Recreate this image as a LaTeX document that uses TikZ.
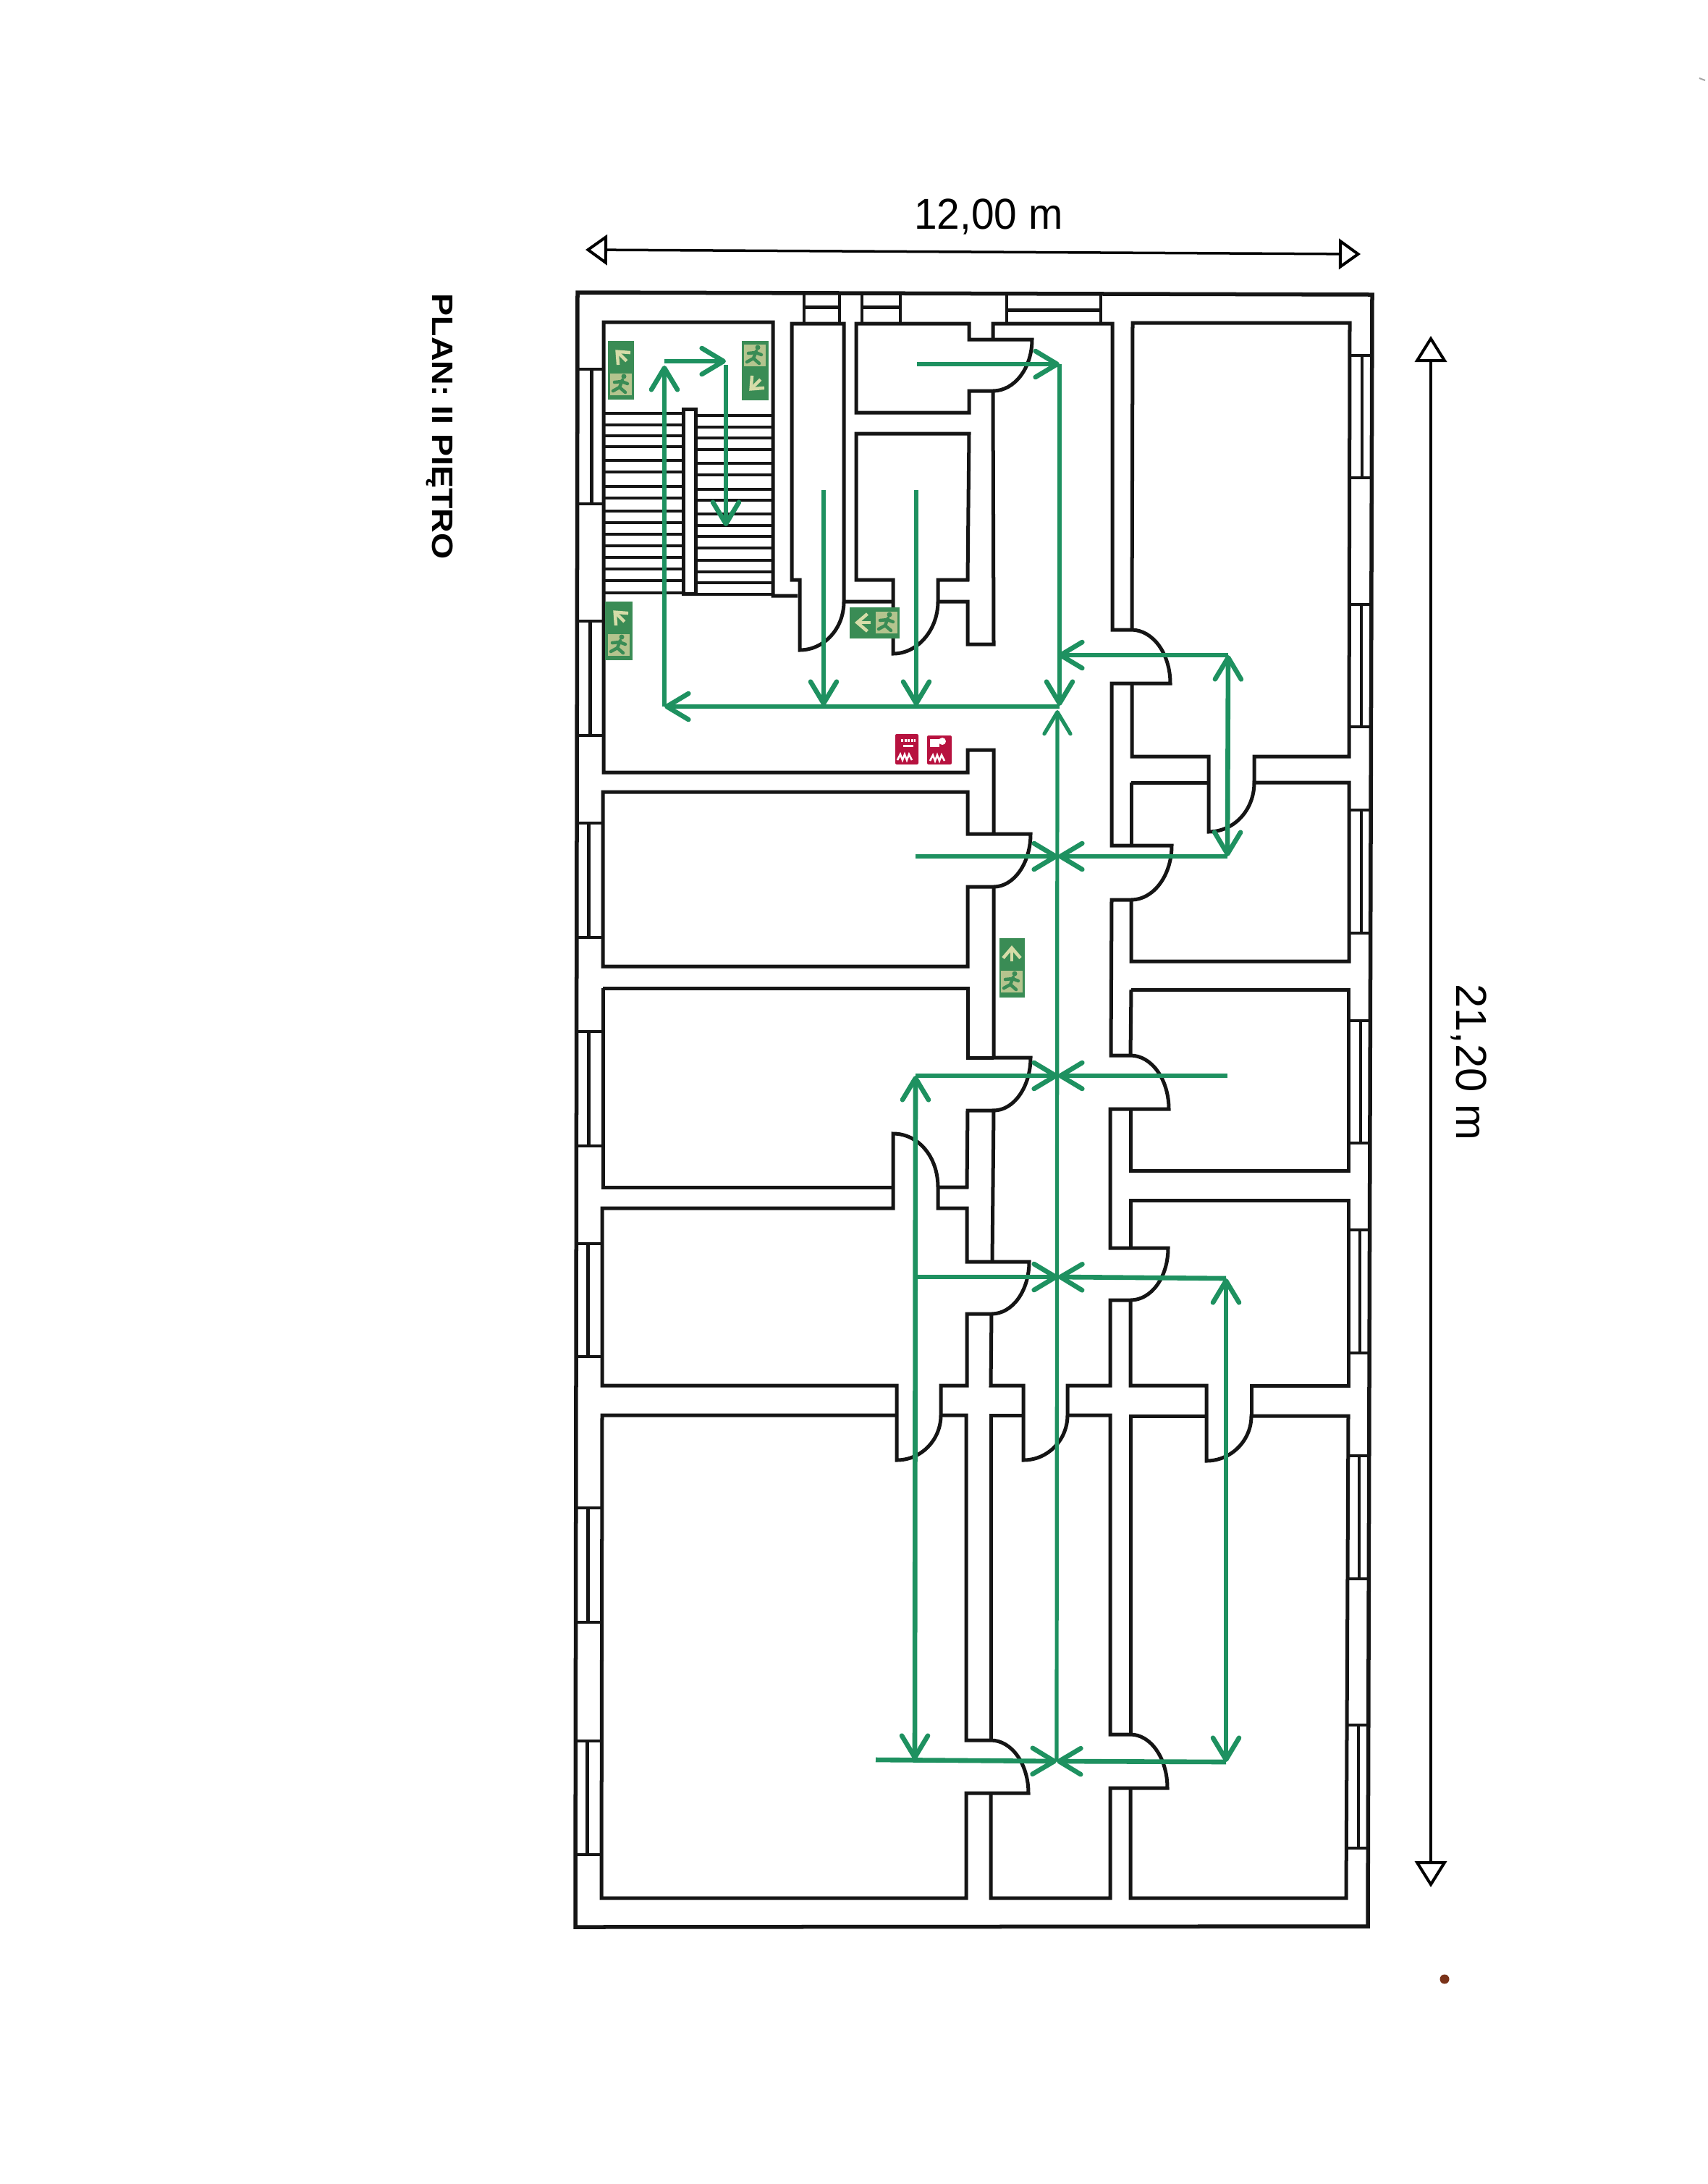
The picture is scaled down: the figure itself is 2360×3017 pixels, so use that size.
\documentclass[tikz,border=0pt]{standalone}
\usepackage{fontspec}
\setmainfont{Liberation Sans}
\usetikzlibrary{arrows.meta}
\definecolor{routegreen}{HTML}{1E9160}
\definecolor{signgreen}{HTML}{3A8C55}
\definecolor{signpale}{HTML}{D6DCA8}
\definecolor{signmix}{HTML}{B4C48E}
\definecolor{signred}{HTML}{B7123F}
\definecolor{wallink}{HTML}{151515}
\tikzset{
  wall/.style={draw=wallink,line width=0.05cm,line join=miter},
  thinwall/.style={draw=wallink,line width=0.038cm},
  tread/.style={draw=wallink,line width=0.036cm},
  route/.style={draw=routegreen,line width=0.066cm,-{Straight Barb[length=0.3cm,width=0.36cm,round]}},
  routeboth/.style={draw=routegreen,line width=0.066cm,{Straight Barb[length=0.3cm,width=0.36cm,round]}-{Straight Barb[length=0.3cm,width=0.36cm,round]}},
  mainroute/.style={route,line width=0.052cm},
  dimension/.style={draw=black,line width=0.035cm,{Triangle[open,length=0.3cm,width=0.42cm,line width=0.04cm,fill=white]}-{Triangle[open,length=0.3cm,width=0.42cm,line width=0.04cm,fill=white]}},
  dimensiontall/.style={draw=black,line width=0.035cm,{Triangle[open,length=0.36cm,width=0.44cm,line width=0.04cm,fill=white]}-{Triangle[open,length=0.36cm,width=0.44cm,line width=0.04cm,fill=white]}},
  dimtext/.style={inner sep=0pt,font=\fontsize{17}{20}\selectfont},
  signbox/.style={fill=signgreen,draw=none},
  signmark/.style={draw=signpale,line width=0.045cm,-{Straight Barb[length=0.14cm,width=0.24cm]}},
  redbox/.style={fill=signred,draw=none,rounded corners=0.02cm},
  redmark/.style={draw=white,line width=0.012cm},
}
\newcommand{\exitarrow}[3]{\begin{scope}[shift={(#1,#2)},rotate=#3]\draw[signmark] (-11,0) -- (11,0);\end{scope}}
\newcommand{\exitrunner}[2]{\begin{scope}[shift={(#1,#2)}]
  \fill[signmix] (-15,-15) rectangle (15,15);
  \draw[signgreen,line width=0.045cm,line cap=round] (2,-6) -- (-2,4) (-2,4) -- (6,11) (-2,4) -- (-11,9) (1,-4) -- (9,-1) (1,-4) -- (-9,-3);
  \fill[signgreen] (4,-11) circle (3.5);
\end{scope}}
\begin{document}
\begin{tikzpicture}[x=0.01cm,y=-0.01cm]
\useasboundingbox (0,0) rectangle (2360,3017);
\fill[white] (0,0) rectangle (2360,3017);

% outer wall
\draw[wall,line width=0.055cm] (798,404) -- (1896,407) -- (1890,2661) -- (795,2662) -- cycle;

% left windows
\foreach \ya/\yb/\xo/\xm/\xi in {510/696/798/817/834,858/1016/798/815/834,1137/1295/797/813/833,1425/1583/797/813/833,1718/1874/796/812/832,2083/2241/796/812/832,2405/2562/795/811/831}{
  \draw[thinwall] (\xo,\ya) -- (\xi,\ya) (\xo,\yb) -- (\xi,\yb);
  \draw[wall] (\xm,\ya) -- (\xm,\yb);
}
% right windows
\foreach \ya/\yb/\xi/\xm/\xo in {491/660/1865/1882/1896,835/1004/1864/1881/1895,1119/1289/1864/1881/1895,1410/1579/1863/1880/1894,1699/1869/1863/1879/1893,2011/2181/1861/1878/1891,2383/2553/1860/1877/1891}{
  \draw[thinwall] (\xi,\ya) -- (\xo,\ya) (\xi,\yb) -- (\xo,\yb);
  \draw[thinwall] (\xm,\ya) -- (\xm,\yb);
}
% top windows
\foreach \xa/\xb/\ya/\ym/\yb in {1111/1160/403/424/445,1191/1244/404/424/446,1391/1521/405/428/447}{
  \draw[thinwall] (\xa,\ya) -- (\xa,\yb) (\xb,\ya) -- (\xb,\yb);
  \draw[wall] (\xa,\ym) -- (\xb,\ym);
}

% stair hall and first left room
\draw[wall] (1102,823) -- (1068,823) -- (1068,445) -- (834,445) -- (834,1067) -- (1337,1067) -- (1337,1036) -- (1373,1036) -- (1373,1152) -- (1424,1152)
  .. controls (1424,1192) and (1401,1225) .. (1373,1225) -- (1337,1225) -- (1337,1335) -- (833,1335) -- (833,1094) -- (1337,1094) -- (1337,1152) -- (1373,1152);
% narrow room
\draw[wall] (1166,831) .. controls (1166,869) and (1138,898) .. (1105,898) -- (1105,801) -- (1094,801) -- (1094,447) -- (1166,447) -- (1166,831) -- (1234,831);
% upper cell
\draw[wall] (1183,447) -- (1339,447) -- (1339,469) -- (1426,469) .. controls (1426,508) and (1402,540) .. (1372,540) -- (1339,540) -- (1339,570) -- (1183,570) -- cycle;
% lower cell
\draw[wall] (1234,831) -- (1234,903) .. controls (1268,903) and (1296,870) .. (1296,831) -- (1296,801) -- (1337,801) -- (1339,599) -- (1183,599) -- (1183,801) -- (1234,801) -- (1234,831);
\draw[wall] (1296,831) -- (1337,831) -- (1337,890) -- (1373,890) -- (1372,540);
% corridor right wall
\draw[wall] (1372,469) -- (1372,447) -- (1537,447) -- (1537,870) -- (1563,870) .. controls (1593,870) and (1617,903) .. (1617,944) -- (1536,944) -- (1536,1168) -- (1619,1168)
  .. controls (1619,1209) and (1594,1243) .. (1563,1243) -- (1536,1243) -- (1535,1458) -- (1562,1458) .. controls (1591,1458) and (1615,1491) .. (1615,1532) -- (1534,1532) -- (1534,1724) -- (1614,1724)
  .. controls (1614,1764) and (1591,1796) .. (1562,1796) -- (1534,1796) -- (1534,1914) -- (1475,1914) -- (1475,1955) .. controls (1475,1989) and (1448,2017) .. (1414,2017) -- (1414,1914) -- (1369,1914) -- (1370,1815);
% corridor left wall, lower part
\draw[wall] (1373,1225) -- (1373,1461) -- (1424,1461) .. controls (1424,1501) and (1401,1534) .. (1373,1534) -- (1371,1743);
\draw[wall] (833,1365) -- (1337,1365) -- (1337,1461) -- (1373,1461);
\draw[wall] (1373,1534) -- (1337,1534) -- (1336,1640) -- (1296,1640) -- (1296,1669) -- (1336,1669) -- (1336,1743) -- (1422,1743) .. controls (1422,1783) and (1399,1815) .. (1370,1815) -- (1336,1815) -- (1336,1914) -- (1300,1914) -- (1300,1955) .. controls (1300,1989) and (1273,2017) .. (1239,2017) -- (1239,1914) -- (832,1914) -- (832,1669) -- (1234,1669) -- (1234,1566) .. controls (1268,1566) and (1296,1597) .. (1296,1640);
\draw[wall] (1234,1640) -- (833,1640) -- (833,1365);
% lower left room
\draw[wall] (1239,1955) -- (832,1955) -- (831,2622) -- (1335,2622) -- (1335,2477) -- (1421,2477) .. controls (1421,2437) and (1398,2404) .. (1369,2404) -- (1335,2404) -- (1335,1955) -- (1300,1955);
% corridor bottom
\draw[wall] (1369,2404) -- (1369,1955) -- (1414,1955);
\draw[wall] (1475,1955) -- (1534,1955) -- (1534,2396) -- (1562,2396) .. controls (1590,2396) and (1613,2429) .. (1613,2470) -- (1534,2470) -- (1534,2622) -- (1369,2622) -- (1369,2477);
% right rooms
\draw[wall] (1562,2470) -- (1562,2622) -- (1860,2622) -- (1863,1956) -- (1729,1956) .. controls (1729,1990) and (1701,2018) .. (1667,2018) -- (1667,1914) -- (1562,1914) -- (1562,1796);
\draw[wall] (1667,1956) -- (1562,1956) -- (1562,2396);
\draw[wall] (1729,1956) -- (1729,1914) -- (1863,1914) -- (1863,1658) -- (1562,1658) -- (1562,1724);
\draw[wall] (1563,1367) -- (1863,1367) -- (1863,1617) -- (1562,1617) -- (1562,1532);
\draw[wall] (1563,1367) -- (1562,1458);
\draw[wall] (1563,1243) -- (1563,1328) -- (1864,1328) -- (1864,1081) -- (1733,1081) .. controls (1733,1119) and (1705,1149) .. (1670,1149) -- (1670,1045) -- (1564,1045) -- (1564,944);
\draw[wall] (1563,1081) -- (1670,1081);
\draw[wall] (1563,1081) -- (1563,1168);
\draw[wall] (1733,1081) -- (1733,1045) -- (1864,1045) -- (1865,446) -- (1565,446) -- (1564,870);

% stairs
\draw[wall,fill=white] (944,565) rectangle (961,820);
\foreach \y in {571,587,602,617,636,652,672,688,706,722,738,754,770,786,802,819}{\draw[tread] (834,\y) -- (944,\y);}
\foreach \y in {574,590,605,621,640,656,676,691,710,726,741,757,774,790,805,821}{\draw[tread] (961,\y) -- (1068,\y);}

% exit signs
\fill[signbox] (840,471) rectangle (876,552);
\exitarrow{858}{491}{135} \exitrunner{858}{531}
\fill[signbox] (1025,471) rectangle (1062,553);
\exitrunner{1043}{491} \exitarrow{1043}{532}{225}
\fill[signbox] (836,831) rectangle (874,912);
\exitarrow{855}{851}{135} \exitrunner{855}{891}
\fill[signbox] (1174,839) rectangle (1243,882);
\exitarrow{1192}{860}{180} \exitrunner{1225}{860}
\fill[signbox] (1381,1296) rectangle (1416,1378);
\exitarrow{1398}{1317}{90} \exitrunner{1398}{1356}

% fire signs
\fill[redbox] (1237,1014) rectangle (1269,1056);
\draw[redmark,line width=0.04cm,dash pattern=on 0.03cm off 0.015cm] (1245,1023) -- (1265,1023);
\draw[redmark,line width=0.03cm] (1248,1030) -- (1262,1030);
\draw[redmark,line width=0.025cm] (1240,1050) -- (1244,1042) -- (1247,1050) -- (1250,1042) -- (1253,1050) -- (1256,1042) -- (1260,1050);
\fill[redbox] (1281,1016) rectangle (1315,1056);
\fill[white] (1285,1021) rectangle (1298,1032);
\fill[white] (1302,1024) circle (5);
\draw[redmark,line width=0.025cm] (1285,1051) -- (1289,1043) -- (1292,1051) -- (1295,1043) -- (1298,1051) -- (1301,1043) -- (1305,1051);

% escape routes
\coordinate (hallW) at (918,976);
\coordinate (hallE) at (1464,976);
\coordinate (stairTop) at (918,499);
\coordinate (stairMid) at (1003,499);
\coordinate (corrN) at (1464,503);
\coordinate (corrFoot) at (1460,2433);
\coordinate (j1) at (1462,905);
\coordinate (j2) at (1462,1183);
\coordinate (j3) at (1462,1486);
\coordinate (j4) at (1462,1764);
\coordinate (r1) at (1697,905);
\coordinate (r2) at (1696,1183);
\coordinate (r3) at (1696,1486);
\coordinate (r4) at (1694,1766);
\coordinate (r5) at (1694,2434);
\coordinate (m2) at (1265,1183);
\coordinate (m3) at (1265,1486);
\coordinate (m4) at (1265,1764);
\coordinate (m5) at (1264,2431);
\coordinate (foot) at (1210,2431);

\draw[route] (hallE) -- (hallW);
\draw[route] (1138,677) -- (1138,975);
\draw[route] (1266,677) -- (1266,975);
\draw[route] (corrN) -- (1464,975);
\draw[route] (1267,503) -- (corrN);
\draw[route] (hallW) -- (918,505);
\draw[route] (stairTop) -- (stairMid);
\draw[route] (1003,504) -- (1003,727);
\draw[mainroute] (corrFoot) -- (1461,981);
\draw[route] (r1) -- (j1);
\draw[routeboth] (r1) -- (r2);
\draw[route] (r2) -- (j2);
\draw[route] (m2) -- (j2);
\draw[route] (r3) -- (j3);
\draw[route] (m3) -- (j3);
\draw[routeboth] (m3) -- (m5);
\draw[route] (m4) -- (j4);
\draw[route] (r4) -- (j4);
\draw[routeboth] (r4) -- (r5);
\draw[route] (foot) -- (corrFoot);
\draw[route] (r5) -- (corrFoot);

% dimensions and texts
\coordinate (dimW) at (809,345);
\coordinate (dimE) at (1880,351);
\coordinate (dimN) at (1977,464);
\coordinate (dimS) at (1977,2607);
\draw[dimension] (dimW) -- (dimE);
\draw[dimensiontall] (dimN) -- (dimS);
\node[dimtext,anchor=base] (widthlabel) at (1366,316) {\scalebox{0.95}[1]{12,00 m}};
\node[dimtext,rotate=-90,anchor=base] (heightlabel) at (2012,1467) {21,20 m};
\node[inner sep=0pt,rotate=-90,anchor=base,font=\bfseries\fontsize{11.6}{14}\selectfont] (title) at (597,589) {\scalebox{1.14}[1]{PLAN: II PIĘTRO}};

% scan marks
\fill[black!70!red!60!brown] (1996,2734) circle (6.5);
\draw[black!35,line width=0.02cm] (2348,108) -- (2356,111);
\end{tikzpicture}
\end{document}
